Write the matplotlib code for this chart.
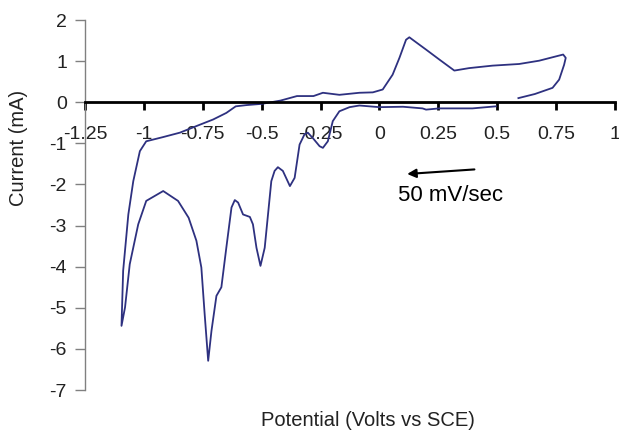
import matplotlib
matplotlib.use("Agg")
import matplotlib.pyplot as plt

plt.rcParams['font.family'] = ['Liberation Sans', 'DejaVu Sans']
plt.rcParams['axes.unicode_minus'] = False

# traced cyclic voltammogram (potential V vs SCE, current mA)
potential = [0.59, 0.66, 0.735, 0.763, 0.784, 0.791, 0.78, 0.678, 0.593, 0.48, 0.381, 0.318,
             0.254, 0.198, 0.141, 0.127, 0.113, 0.085, 0.056, 0.014, -0.028, -0.085,
             -0.17, -0.24, -0.28, -0.35, -0.42, -0.5, -0.565, -0.61, -0.65, -0.706,
             -0.777, -0.847, -0.92, -0.99, -1.017, -1.045, -1.066, -1.088, -1.095,
             -1.08, -1.06, -1.024, -0.99, -0.918, -0.855, -0.81, -0.777, -0.756, -0.742,
             -0.727, -0.713, -0.692, -0.671, -0.65, -0.628, -0.614, -0.60, -0.579, -0.55,
             -0.537, -0.522, -0.505, -0.487, -0.473, -0.459, -0.445, -0.431, -0.41,
             -0.38, -0.36, -0.339, -0.318, -0.304, -0.283, -0.254, -0.24, -0.219,
             -0.198, -0.17, -0.127, -0.085, 0.0, 0.1, 0.183, 0.198, 0.254, 0.395, 0.494]
current = [0.1, 0.2, 0.35, 0.55, 0.91, 1.08, 1.16, 1.01, 0.93, 0.89, 0.83, 0.77,
           1.04, 1.28, 1.52, 1.58, 1.52, 1.08, 0.67, 0.31, 0.24, 0.23,
           0.18, 0.23, 0.15, 0.15, 0.04, -0.04, -0.07, -0.1, -0.26, -0.42,
           -0.58, -0.74, -0.85, -0.95, -1.19, -1.92, -2.73, -4.1, -5.44,
           -4.99, -3.94, -2.97, -2.4, -2.16, -2.4, -2.81, -3.37, -4.02, -5.15,
           -6.29, -5.56, -4.71, -4.5, -3.54, -2.56, -2.38, -2.44, -2.73, -2.79,
           -2.97, -3.54, -3.98, -3.54, -2.73, -1.92, -1.67, -1.58, -1.67,
           -2.04, -1.84, -1.03, -0.78, -0.74, -0.87, -1.07, -1.11, -0.95,
           -0.46, -0.22, -0.12, -0.08, -0.12, -0.11, -0.15, -0.18, -0.15, -0.15, -0.1]

xticks = [-1.25, -1, -0.75, -0.5, -0.25, 0, 0.25, 0.5, 0.75, 1]
xtick_labels = ['-1.25', '-1', '-0.75', '-0.5', '-0.25', '0', '0.25', '0.5', '0.75', '1']
yticks = [-7, -6, -5, -4, -3, -2, -1, 0, 1, 2]

fig = plt.figure(figsize=(6.19, 4.32), dpi=100)
ax = fig.add_axes([0.1373, 0.0972, 0.8562, 0.8565])

ax.plot(potential, current, color='#2E3180', linewidth=1.3)

ax.set_xlim(-1.25, 1)
ax.set_ylim(-7, 2)

ax.spines['top'].set_visible(False)
ax.spines['right'].set_visible(False)
ax.spines['bottom'].set_position(('data', 0))
ax.spines['bottom'].set_linewidth(2)
ax.spines['bottom'].set_color('black')
ax.spines['left'].set_color('#808080')
ax.spines['left'].set_linewidth(1)

ax.set_xticks(xticks)
ax.set_xticklabels(xtick_labels)
ax.set_yticks(yticks)
ax.tick_params(axis='x', direction='out', length=6, width=2, color='black',
               labelsize=14, pad=11, labelcolor='#222222')
ax.tick_params(axis='y', direction='out', length=7, width=1, color='#808080',
               labelsize=14, pad=6, labelcolor='#222222')

ax.annotate('', xy=(0.106, -1.75), xytext=(0.415, -1.63),
            arrowprops=dict(arrowstyle='-|>', color='black', lw=1.5,
                            mutation_scale=13))
ax.text(0.30, -2.28, '50 mV/sec', fontsize=16, ha='center', va='center',
        color='black')

fig.text(368 / 619, 1 - 421 / 432, 'Potential (Volts vs SCE)', fontsize=14.5,
         ha='center', va='center', color='#222222')
fig.text(19 / 619, 1 - 148 / 432, 'Current (mA)', fontsize=14.5, rotation=90,
         ha='center', va='center', color='#222222')

fig.savefig('out.png', dpi=100)
